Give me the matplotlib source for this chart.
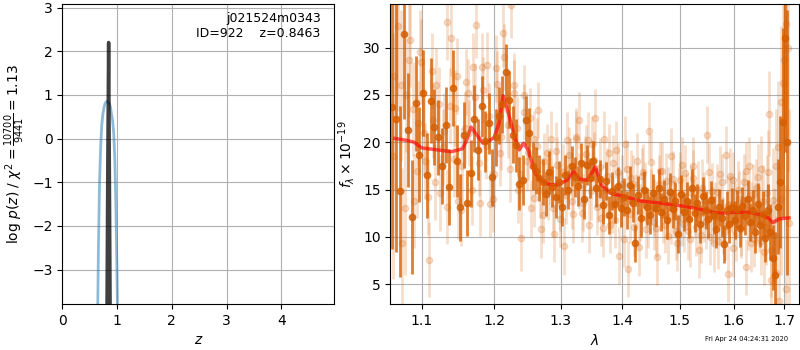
import numpy as np
import matplotlib
matplotlib.use("Agg")
import matplotlib.pyplot as plt
from matplotlib.ticker import FixedLocator, FixedFormatter, NullLocator

# ---- p(z) panel ----
z_coarse = [0.60, 0.62, 0.64, 0.66, 0.68, 0.70, 0.72, 0.74, 0.76, 0.78, 0.80, 0.82,
            0.84, 0.86, 0.88, 0.90, 0.92, 0.94, 0.96, 0.98, 1.00, 1.02, 1.04]
logp_coarse = [-9.5, -7.0, -4.6, -2.5, -1.0, -0.2, 0.3, 0.55, 0.7, 0.8, 0.84, 0.85,
               0.84, 0.8, 0.72, 0.55, 0.4, 0.1, -0.5, -1.6, -3.2, -5.0, -7.0]
z_fine = [0.80, 0.815, 0.83, 0.846, 0.86, 0.875, 0.89]
logp_fine = [-9.0, -4.2, -0.8, 2.2, -0.8, -4.2, -9.0]

# ---- spectrum panel ----
wave_dark = [1.062, 1.067, 1.072, 1.077, 1.082, 1.087, 1.092, 1.097, 1.102, 1.107,
             1.112, 1.117, 1.122, 1.127, 1.132, 1.137, 1.142, 1.147, 1.152, 1.157,
             1.162, 1.167, 1.172, 1.177, 1.182, 1.187, 1.192, 1.197, 1.202, 1.207,
             1.212, 1.217, 1.222, 1.227, 1.232, 1.237, 1.242, 1.247, 1.252, 1.257,
             1.262, 1.267, 1.272, 1.277, 1.282, 1.287, 1.292, 1.297, 1.302, 1.307,
             1.312, 1.317, 1.322, 1.327, 1.332, 1.337, 1.342, 1.347, 1.352, 1.357,
             1.362, 1.367, 1.372, 1.377, 1.382, 1.387, 1.392, 1.397, 1.402, 1.407,
             1.412, 1.417, 1.422, 1.427, 1.432, 1.437, 1.442, 1.447, 1.452, 1.457,
             1.462, 1.467, 1.472, 1.477, 1.482, 1.487, 1.492, 1.497, 1.502, 1.507,
             1.512, 1.517, 1.522, 1.527, 1.532, 1.537, 1.542, 1.547, 1.552, 1.557,
             1.562, 1.567, 1.572, 1.577, 1.582, 1.587, 1.592, 1.597, 1.602, 1.607,
             1.612, 1.617, 1.622, 1.627, 1.632, 1.637, 1.642, 1.647, 1.652, 1.657,
             1.662, 1.667, 1.672, 1.677, 1.682, 1.687, 1.692, 1.697, 1.702, 1.707]
flux_dark = [23.7, 22.4, 14.8, 31.4, 21.3, 12.1, 24.1, 18.7, 25.2, 16.5,
             24.4, 21.6, 20.5, 17.5, 21.8, 15.3, 25.7, 18.0, 13.1, 20.8,
             13.6, 16.7, 22.5, 19.2, 23.8, 20.1, 22.0, 16.3, 20.5, 22.8,
             24.0, 27.4, 24.5, 20.8, 19.7, 15.6, 16.0, 22.3, 21.0, 17.5,
             17.0, 16.2, 15.8, 14.5, 16.8, 15.3, 14.2, 15.8, 13.2, 16.5,
             15.0, 17.5, 16.3, 15.4, 17.8, 14.0, 17.6, 16.2, 18.0, 15.2,
             16.1, 13.4, 15.9, 12.3, 14.8, 13.5, 15.4, 13.0, 14.2, 12.8,
             15.5, 13.6, 9.3, 14.4, 12.0, 15.0, 13.2, 12.3, 14.6, 13.0,
             15.2, 12.6, 14.0, 11.8, 14.7, 12.9, 13.8, 10.3, 14.5, 12.6,
             13.8, 11.9, 15.2, 12.5, 13.6, 11.4, 14.3, 12.8, 11.9, 13.9,
             12.3, 10.8, 13.1, 12.0, 9.2, 12.8, 11.4, 13.2, 11.8, 12.9,
             10.9, 13.3, 12.2, 14.0, 11.6, 12.8, 10.5, 13.5, 11.2, 12.4,
             9.9, 12.8, 10.5, 7.8, 6.0, 13.2, 15.8, 22.1, 31.0, 20.0]
err_dark = [15, 14, 9, 9, 6, 6, 5, 5, 4.5, 4.5,
            4.5, 4, 4, 4, 4, 4, 4, 3.8, 3.5, 3.5,
            3.5, 3.5, 3.5, 3.2, 3.2, 3.2, 3.2, 3, 3, 3,
            3, 3, 3, 3, 2.8, 2.8, 2.6, 2.6, 2.6, 2.5,
            2.5, 2.4, 2.4, 2.3, 2.3, 2.2, 2.2, 2.2, 2.1, 2.1,
            2.1, 2.1, 2.1, 2.1, 2.1, 2.1, 2.1, 2.1, 2.1, 2.1,
            2.0, 2.0, 2.0, 2.0, 2.0, 2.0, 2.0, 2.0, 2.0, 2.0,
            2.0, 2.0, 2.0, 2.0, 2.0, 2.0, 2.0, 2.0, 2.0, 2.0,
            2.0, 2.0, 2.0, 2.0, 2.0, 2.0, 2.0, 2.0, 2.0, 2.0,
            2.0, 2.0, 2.0, 2.0, 2.0, 2.0, 2.0, 2.0, 2.0, 2.0,
            2.0, 2.0, 2.0, 2.0, 2.0, 2.0, 2.0, 2.0, 2.0, 2.0,
            2.0, 2.0, 2.0, 2.0, 2.0, 2.1, 2.2, 2.2, 2.3, 2.4,
            2.6, 2.8, 3.0, 3.4, 4.5, 5, 7, 10, 12, 14]

wave_light = [1.0645, 1.0695, 1.0745, 1.0795, 1.0845, 1.0895, 1.0945, 1.0995, 1.1045, 1.1095,
              1.1145, 1.1195, 1.1245, 1.1295, 1.1345, 1.1395, 1.1445, 1.1495, 1.1545, 1.1595,
              1.1645, 1.1695, 1.1745, 1.1795, 1.1845, 1.1895, 1.1945, 1.1995, 1.2045, 1.2095,
              1.2145, 1.2195, 1.2245, 1.2295, 1.2345, 1.2395, 1.2445, 1.2495, 1.2545, 1.2595,
              1.2645, 1.2695, 1.2745, 1.2795, 1.2845, 1.2895, 1.2945, 1.2995, 1.3045, 1.3095,
              1.3145, 1.3195, 1.3245, 1.3295, 1.3345, 1.3395, 1.3445, 1.3495, 1.3545, 1.3595,
              1.3645, 1.3695, 1.3745, 1.3795, 1.3845, 1.3895, 1.3945, 1.3995, 1.4045, 1.4095,
              1.4145, 1.4195, 1.4245, 1.4295, 1.4345, 1.4395, 1.4445, 1.4495, 1.4545, 1.4595,
              1.4645, 1.4695, 1.4745, 1.4795, 1.4845, 1.4895, 1.4945, 1.4995, 1.5045, 1.5095,
              1.5145, 1.5195, 1.5245, 1.5295, 1.5345, 1.5395, 1.5445, 1.5495, 1.5545, 1.5595,
              1.5645, 1.5695, 1.5745, 1.5795, 1.5845, 1.5895, 1.5945, 1.5995, 1.6045, 1.6095,
              1.6145, 1.6195, 1.6245, 1.6295, 1.6345, 1.6395, 1.6445, 1.6495, 1.6545, 1.6595,
              1.6645, 1.6695, 1.6745, 1.6795, 1.6845, 1.6895, 1.6945, 1.6995, 1.7045, 1.7095]
flux_light = [27.0, 32.3, 9.3, 25.0, 30.8, 13.8, 22.0, 28.5, 18.0, 7.6,
              22.3, 26.0, 14.6, 21.2, 32.7, 31.0, 23.6, 13.8, 17.5, 26.4,
              21.0, 28.0, 32.4, 13.6, 25.5, 28.2, 13.5, 16.6, 26.1, 20.6,
              29.0, 21.8, 34.5, 25.2, 15.0, 9.9, 23.2, 19.0, 13.0, 20.3,
              23.4, 10.8, 18.0, 14.8, 20.3, 10.3, 17.6, 13.6, 9.0, 20.2,
              17.4, 12.4, 20.3, 22.3, 13.6, 18.8, 11.3, 19.8, 22.6, 14.6,
              12.0, 20.3, 16.4, 11.3, 17.8, 19.2, 8.0, 15.6, 19.8, 6.6,
              16.2, 11.0, 18.0, 12.6, 16.8, 10.8, 21.2, 14.2, 11.6, 7.9,
              17.0, 12.3, 15.9, 10.1, 18.5, 13.0, 9.4, 16.0, 12.0, 16.7,
              10.6, 14.6, 17.5, 11.0, 8.6, 15.2, 12.5, 20.8, 10.0, 14.8,
              12.8, 9.6, 16.6, 11.2, 18.7, 6.1, 13.5, 16.0, 10.4, 14.0,
              11.0, 15.8, 6.8, 17.5, 12.8, 9.8, 15.2, 11.9, 17.2, 8.4,
              14.6, 23.0, 5.4, 10.2, 17.5, 3.2, 24.3, 28.7, 32.5, 11.5]
err_light = [12, 9, 8, 6, 5, 5, 4.5, 4.5, 4, 4,
             4, 4, 4, 4, 4, 4, 4, 4, 4, 3.5,
             3.5, 3.5, 3.5, 3.5, 3.5, 3.5, 3.5, 3.5, 3.5, 3.5,
             3.5, 3.5, 3.5, 3.5, 3.5, 3.5, 3, 3, 3, 3,
             3, 3, 3, 3, 3, 3, 3, 3, 3, 3,
             3, 3, 3, 3, 3, 3, 3, 3, 3, 3,
             3, 3, 3, 3, 3, 3, 3, 3, 3, 3,
             3, 3, 3, 3, 3, 3, 3, 3, 3, 3,
             3, 3, 3, 3, 3, 3, 3, 3, 3, 3,
             3, 3, 3, 3, 3, 3, 3, 3, 3, 3,
             3, 3, 3, 3, 3, 3, 3, 3, 3, 3,
             3, 3, 3, 3, 3, 3, 3, 3.5, 3.5, 3.5,
             4, 4.5, 5, 5, 6, 7, 8, 9, 10, 12]

wave_light2 = [1.0633, 1.0683, 1.0733, 1.0783, 1.0833, 1.0883, 1.0933, 1.0983, 1.1033, 1.1083,
               1.1133, 1.1183, 1.1233, 1.1283, 1.1333, 1.1383, 1.1433, 1.1483, 1.1533, 1.1583,
               1.1633, 1.1683, 1.1733, 1.1783, 1.1833, 1.1883, 1.1933, 1.1983, 1.2033, 1.2083,
               1.2133, 1.2183, 1.2233, 1.2283, 1.2333, 1.2383, 1.2433, 1.2483, 1.2533, 1.2583,
               1.2633, 1.2683, 1.2733, 1.2783, 1.2833, 1.2883, 1.2933, 1.2983, 1.3033, 1.3083,
               1.3133, 1.3183, 1.3233, 1.3283, 1.3333, 1.3383, 1.3433, 1.3483, 1.3533, 1.3583,
               1.3633, 1.3683, 1.3733, 1.3783, 1.3833, 1.3883, 1.3933, 1.3983, 1.4033, 1.4083,
               1.4133, 1.4183, 1.4233, 1.4283, 1.4333, 1.4383, 1.4433, 1.4483, 1.4533, 1.4583,
               1.4633, 1.4683, 1.4733, 1.4783, 1.4833, 1.4883, 1.4933, 1.4983, 1.5033, 1.5083,
               1.5133, 1.5183, 1.5233, 1.5283, 1.5333, 1.5383, 1.5433, 1.5483, 1.5533, 1.5583,
               1.5633, 1.5683, 1.5733, 1.5783, 1.5833, 1.5883, 1.5933, 1.5983, 1.6033, 1.6083,
               1.6133, 1.6183, 1.6233, 1.6283, 1.6333, 1.6383, 1.6433, 1.6483, 1.6533, 1.6583,
               1.6633, 1.6683, 1.6733, 1.6783, 1.6833, 1.6883, 1.6933, 1.6983, 1.7033, 1.7083]
flux_light2 = [18.5, 35.0, 26.0, 13.0, 28.7, 23.5, 17.0, 29.5, 21.0, 14.2,
               27.5, 15.8, 24.0, 19.5, 13.2, 23.8, 18.2, 27.0, 12.8, 21.5,
               25.2, 14.9, 24.8, 17.8, 28.0, 19.6, 22.8, 14.0, 27.8, 18.9,
               31.5, 23.5, 17.2, 26.0, 21.5, 16.6, 25.0, 18.0, 22.6, 14.1,
               19.6, 15.0, 12.3, 18.9, 16.4, 13.0, 19.1, 11.9, 16.8, 14.4,
               18.6, 13.8, 20.6, 15.9, 12.5, 17.7, 20.2, 14.8, 18.1, 13.2,
               17.4, 10.9, 15.0, 18.9, 13.4, 11.8, 16.9, 14.0, 9.8, 17.2,
               12.4, 15.6, 13.6, 8.9, 16.4, 14.9, 11.8, 17.9, 13.1, 10.9,
               15.6, 17.0, 11.3, 14.4, 12.2, 16.1, 10.6, 14.3, 17.6, 11.4,
               13.7, 9.8, 16.2, 12.9, 15.0, 10.2, 13.9, 11.7, 16.9, 12.2,
               9.3, 14.7, 12.0, 15.8, 10.5, 13.4, 16.4, 8.8, 12.7, 15.0,
               10.8, 13.9, 17.0, 11.6, 9.3, 14.5, 12.4, 16.3, 9.6, 13.8,
               11.0, 16.8, 8.6, 13.9, 6.2, 19.5, 14.0, 26.3, 4.5, 30.0]
err_light2 = [13, 10, 8, 7, 6, 5, 5, 4.5, 4.5, 4,
              4, 4, 4, 4, 4, 4, 4, 4, 3.8, 3.8,
              3.6, 3.6, 3.6, 3.5, 3.5, 3.5, 3.5, 3.5, 3.5, 3.5,
              3.5, 3.5, 3.5, 3.4, 3.4, 3.3, 3.2, 3.2, 3.1, 3.1,
              3, 3, 3, 3, 3, 3, 3, 3, 3, 3,
              3, 3, 3, 3, 3, 3, 3, 3, 3, 3,
              3, 3, 3, 3, 3, 3, 3, 3, 3, 3,
              3, 3, 3, 3, 3, 3, 3, 3, 3, 3,
              3, 3, 3, 3, 3, 3, 3, 3, 3, 3,
              3, 3, 3, 3, 3, 3, 3, 3, 3, 3,
              3, 3, 3, 3, 3, 3, 3, 3, 3, 3,
              3, 3, 3, 3, 3, 3.2, 3.3, 3.5, 3.6, 3.8,
              4, 4.5, 5, 5.5, 6, 7, 8, 9, 11, 13]

wave_model = [1.065, 1.08, 1.09, 1.10, 1.12, 1.14, 1.155, 1.16, 1.167, 1.175,
              1.184, 1.19, 1.20, 1.207, 1.213, 1.22, 1.23, 1.237, 1.243, 1.25,
              1.26, 1.27, 1.283, 1.295, 1.31, 1.32, 1.33, 1.342, 1.35, 1.355,
              1.365, 1.38, 1.40, 1.43, 1.46, 1.50, 1.53, 1.56, 1.58, 1.60,
              1.63, 1.655, 1.668, 1.677, 1.69, 1.71]
flux_model = [20.4, 20.2, 20.0, 19.4, 19.2, 19.0, 19.3, 20.0, 21.6, 20.8,
              19.9, 20.0, 20.5, 22.0, 24.9, 23.3, 20.5, 19.2, 19.9, 19.2,
              16.8, 15.9, 15.5, 15.5, 16.0, 16.9, 16.1, 16.0, 16.8, 17.4,
              15.5, 14.6, 14.3, 13.8, 13.6, 13.3, 13.0, 12.6, 12.5, 12.6,
              12.6, 12.3, 12.0, 11.5, 11.9, 12.0]

obj_name = "j021524m0343"
obj_id = 922
z_best = 0.8463
chi2_num, chi2_den = 10700, 9441
timestamp = "Fri Apr 24 04:24:31 2020"

col = "#d55e00"

fig = plt.figure(figsize=(8, 3.5), dpi=100)
ax1 = fig.add_axes([0.0779, 0.1314, 0.34, 0.857])
ax2 = fig.add_axes([0.4879, 0.1314, 0.511, 0.857])

# left: log p(z)
ax1.plot(z_coarse, logp_coarse, color="tab:blue", alpha=0.5, lw=2)
ax1.plot(z_fine, logp_fine, color="k", alpha=0.75, lw=2.5)
ax1.set_xlim(0, 4.97)
ax1.set_ylim(-3.79, 3.08)
ax1.set_xticks([0, 1, 2, 3, 4])
ax1.set_yticks([-3, -2, -1, 0, 1, 2, 3])
ax1.grid(True)
ax1.set_xlabel("$z$")
ax1.set_ylabel(r"log $p(z)$ / $\chi^2=\frac{%d}{%d}=%.2f$"
               % (chi2_num, chi2_den, chi2_num / chi2_den))
ax1.text(0.95, 0.975, "%s\nID=%d    z=%.4f" % (obj_name, obj_id, z_best),
         transform=ax1.transAxes, ha="right", va="top", fontsize=9)

# right: spectrum
for w, f, e in [(wave_light, flux_light, err_light), (wave_light2, flux_light2, err_light2)]:
    ax2.errorbar(w, f, yerr=e, color=col, alpha=0.2,
                 marker="o", ms=4.5, linestyle="None", elinewidth=2)
ax2.errorbar(wave_dark, flux_dark, yerr=err_dark, color=col, alpha=0.8,
             marker="o", ms=4.5, linestyle="None", elinewidth=2)
ax2.plot(wave_model, flux_model, color="red", alpha=0.65, lw=2.5)
ax2.set_xscale("log")
ax2.set_xlim(1.0593, 1.731)
ax2.set_ylim(2.9, 34.6)
xt = [1.1, 1.2, 1.3, 1.4, 1.5, 1.6, 1.7]
ax2.xaxis.set_major_locator(FixedLocator(xt))
ax2.xaxis.set_major_formatter(FixedFormatter(["%.1f" % v for v in xt]))
ax2.xaxis.set_minor_locator(NullLocator())
ax2.set_yticks([5, 10, 15, 20, 25, 30])
ax2.grid(True)
ax2.set_xlabel(r"$\lambda$")
ax2.set_ylabel(r"$f_\lambda \times 10^{-19}$")

fig.text(0.985, 0.03, timestamp, ha="right", va="center", fontsize=4.8)

fig.savefig("out.png", dpi=100)
